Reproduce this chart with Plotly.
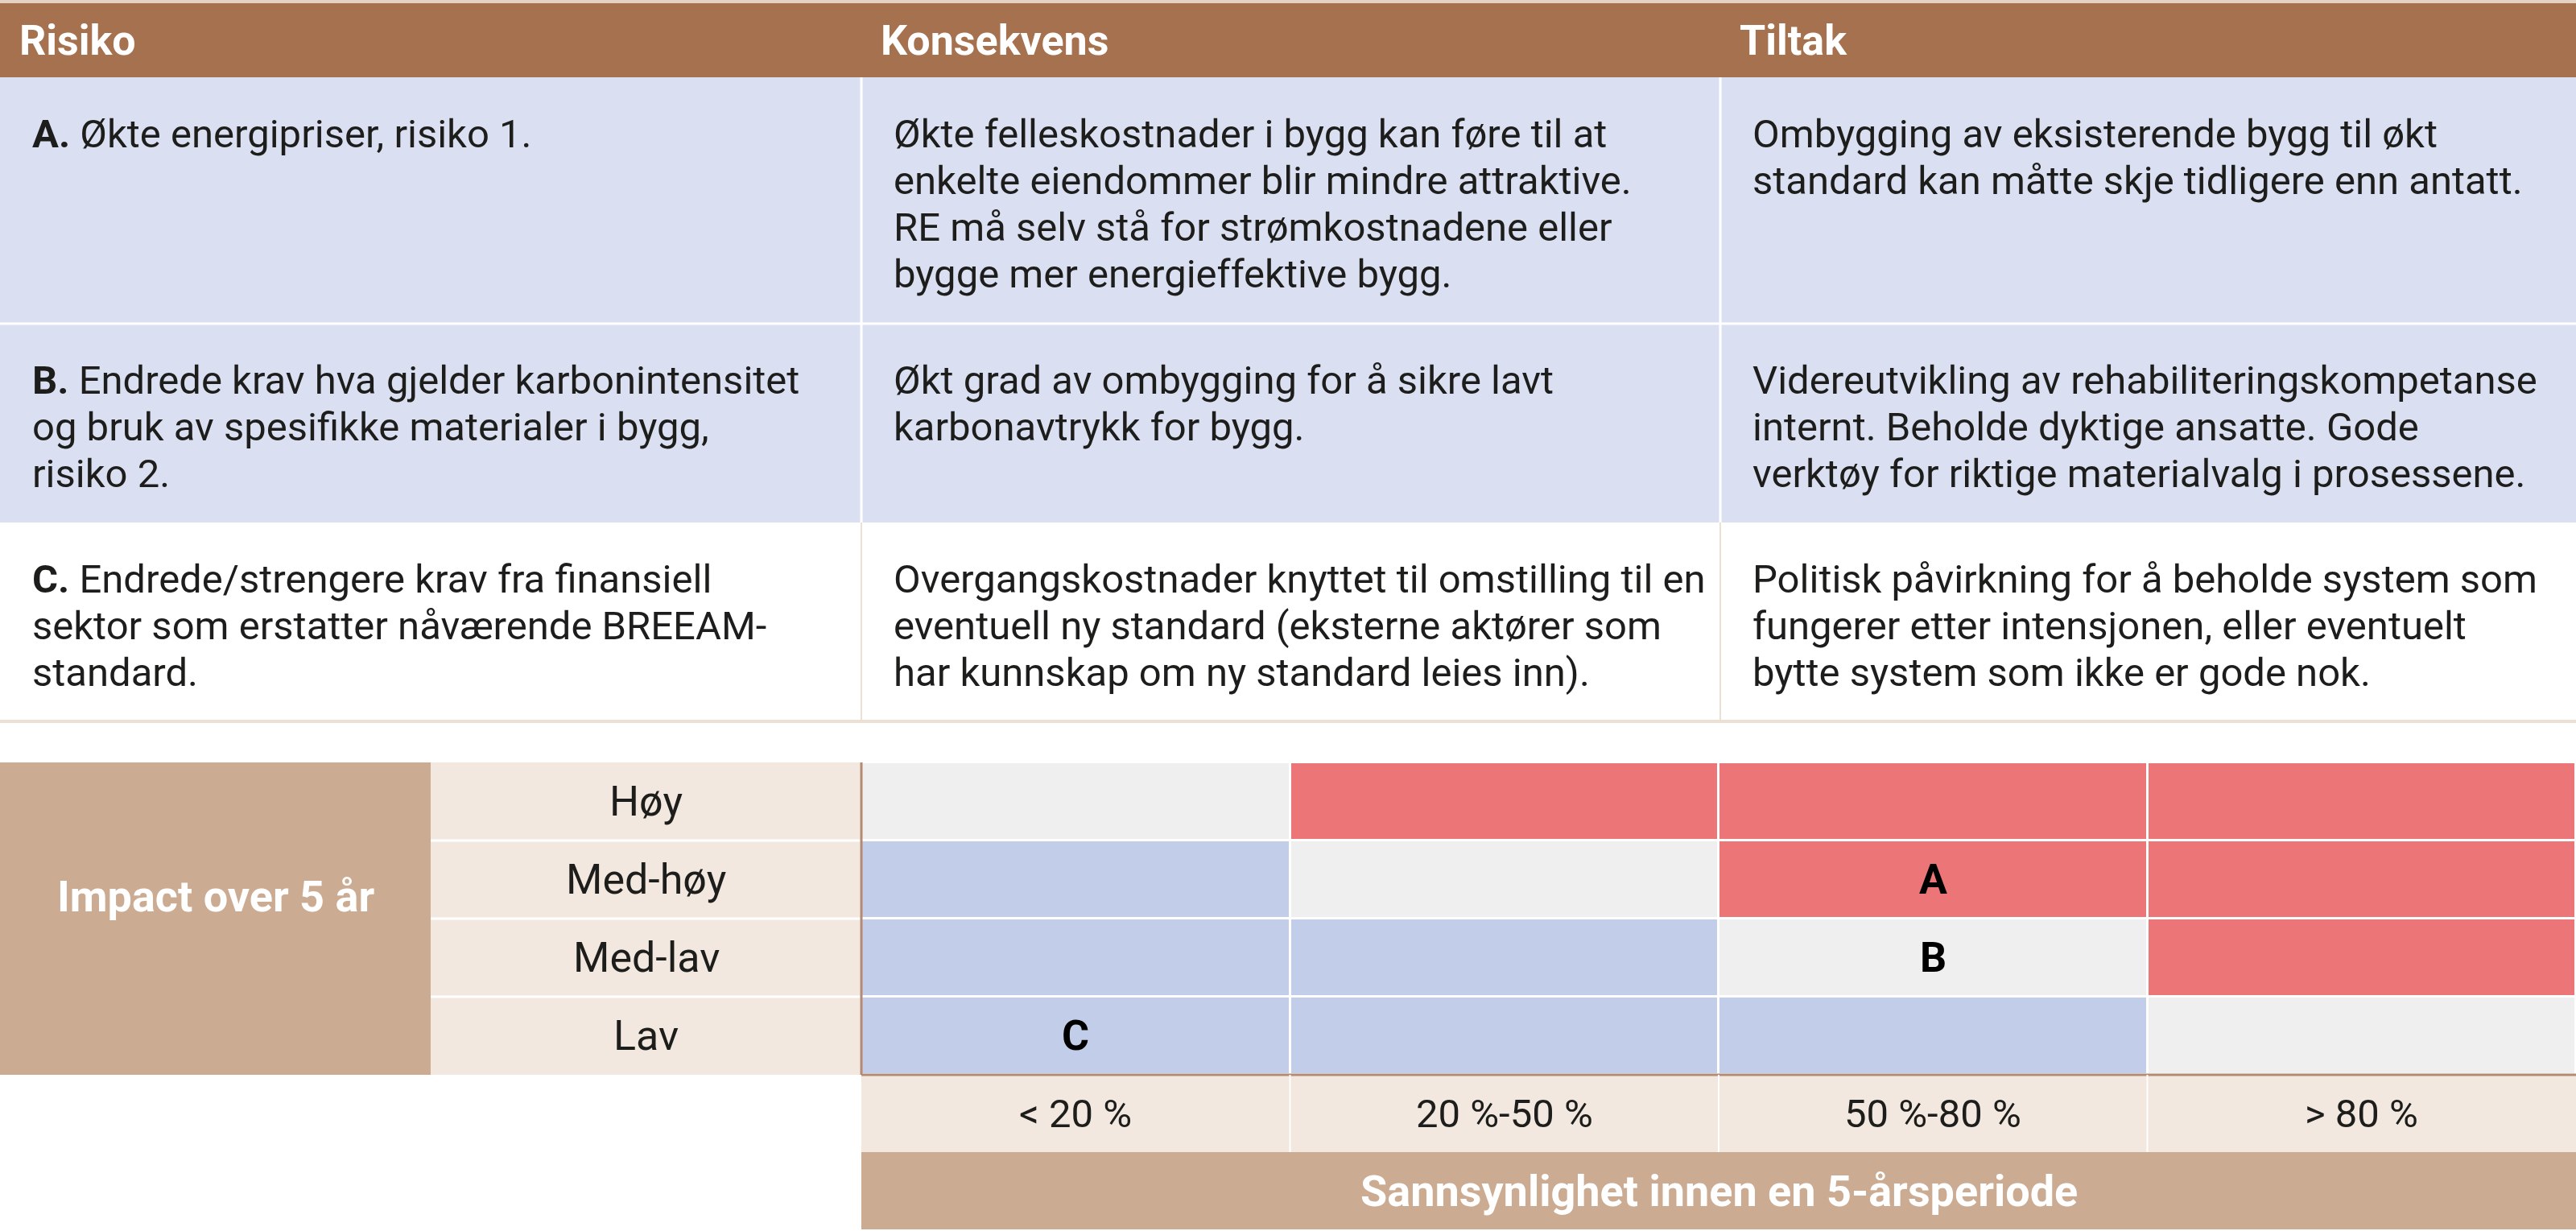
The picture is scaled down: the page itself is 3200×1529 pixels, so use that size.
import plotly.graph_objects as go

# ---- data ----
columns = ["Risiko", "Konsekvens", "Tiltak"]
risk_ids = ["A.", "B.", "C."]

risiko_text = [
    ["Økte energipriser, risiko 1."],
    ["Endrede krav hva gjelder karbonintensitet",
     "og bruk av spesifikke materialer i bygg,",
     "risiko 2."],
    ["Endrede/strengere krav fra finansiell",
     "sektor som erstatter nåværende BREEAM-",
     "standard."],
]
konsekvens_text = [
    ["Økte felleskostnader i bygg kan føre til at",
     "enkelte eiendommer blir mindre attraktive.",
     "RE må selv stå for strømkostnadene eller",
     "bygge mer energieffektive bygg."],
    ["Økt grad av ombygging for å sikre lavt",
     "karbonavtrykk for bygg."],
    ["Overgangskostnader knyttet til omstilling til en",
     "eventuell ny standard (eksterne aktører som",
     "har kunnskap om ny standard leies inn)."],
]
tiltak_text = [
    ["Ombygging av eksisterende bygg til økt",
     "standard kan måtte skje tidligere enn antatt."],
    ["Videreutvikling av rehabiliteringskompetanse",
     "internt. Beholde dyktige ansatte. Gode",
     "verktøy for riktige materialvalg i prosessene."],
    ["Politisk påvirkning for å beholde system som",
     "fungerer etter intensjonen, eller eventuelt",
     "bytte system som ikke er gode nok."],
]

impact_levels = ["Høy", "Med-høy", "Med-lav", "Lav"]
prob_bins = ["< 20 %", "20 %-50 %", "50 %-80 %", "> 80 %"]
# 0 = lav (blå), 1 = middels (grå), 2 = høy (rød)
risk_level = [
    [1, 2, 2, 2],
    [0, 1, 2, 2],
    [0, 0, 1, 2],
    [0, 0, 0, 1],
]
risk_marks = [("A", "50 %-80 %", "Med-høy"),
              ("B", "50 %-80 %", "Med-lav"),
              ("C", "< 20 %", "Lav")]

y_title = "Impact over 5 år"
x_title = "Sannsynlighet innen en 5-årsperiode"

# ---- layout / style ----
W, H = 3200, 1529
FONT = "Roboto"
TXT = "#1d1d1b"
BROWN = "#a5714e"
LAV = "#dae0f1"
TAN = "#ccab93"
BEIGE = "#f2e8df"
LINE_BEIGE = "#ecdfd4"
RED, GRAY, BLUE = "#ec7577", "#efefef", "#c2cdea"
BODY = 49
BOLD = 52

col_x = [0, 1070, 2137, W]
head_top, head_bot = 4, 96
row_y = [96, 402, 649, 894]
row_fill = [LAV, LAV, "white"]
text_pad = 38
first_off = 70
line_h = 58

mx_left, mx_right = 1070, W
mx_top, mx_bot = 947, 1335
lab_left = 535
xlab_bot = 1431
title_bot = 1527
cw = (mx_right - mx_left) / len(prob_bins)
rh = (mx_bot - mx_top) / len(impact_levels)

fig = go.Figure()
shapes = []
ann = []


def rect(x0, y0, x1, y1, color, layer="below"):
    shapes.append(dict(type="rect", x0=x0, y0=y0, x1=x1, y1=y1, xref="x", yref="y",
                       fillcolor=color, line_width=0, layer=layer))


def line(x0, y0, x1, y1, color, w):
    shapes.append(dict(type="line", x0=x0, y0=y0, x1=x1, y1=y1, xref="x", yref="y",
                       line=dict(color=color, width=w), layer="above"))


def text(x, y, s, size=BODY, color=TXT, xanchor="left"):
    ann.append(dict(x=x, y=y, xref="x", yref="y", text=s, showarrow=False,
                    xanchor=xanchor, yanchor="middle",
                    font=dict(family=FONT, size=size, color=color)))


# ---- top table ----
rect(0, 0, W, head_top, "#e6d2c2")
rect(0, head_top, W, head_bot, BROWN)
for i, c in enumerate(columns):
    text(col_x[i] + 22, (head_top + head_bot) / 2, f"<b>{c}</b>", size=BOLD, color="white")

for r in range(3):
    rect(0, row_y[r], W, row_y[r + 1], row_fill[r])
    for ci, col in enumerate([risiko_text, konsekvens_text, tiltak_text]):
        for li, s in enumerate(col[r]):
            if ci == 0 and li == 0:
                s = f"<b>{risk_ids[r]}</b> " + s
            text(col_x[ci] + text_pad, row_y[r] + first_off + li * line_h, s)

line(0, row_y[1], W, row_y[1], "white", 3)
for cx in col_x[1:-1]:
    line(cx, row_y[0], cx, row_y[2], "white", 3)
    line(cx, row_y[2], cx, row_y[3], LINE_BEIGE, 2)
line(0, row_y[3] + 2, W, row_y[3] + 2, LINE_BEIGE, 4)

# ---- risk matrix ----
rect(0, mx_top, lab_left, mx_bot, TAN)
text(lab_left / 2, 1113, f"<b>{y_title}</b>", size=BOLD + 2, color="white", xanchor="center")
rect(lab_left, mx_top, mx_left, mx_bot, BEIGE)
for i, lvl in enumerate(impact_levels):
    text((lab_left + mx_left) / 2, mx_top + rh * (i + 0.5), lvl, size=52, xanchor="center")
    if i > 0:
        line(lab_left, mx_top + rh * i, mx_left, mx_top + rh * i, "white", 3)

xc = [mx_left + cw * (j + 0.5) for j in range(len(prob_bins))]
yc = [mx_top + rh * (i + 0.5) for i in range(len(impact_levels))]
fig.add_trace(go.Heatmap(
    x=xc, y=yc, z=risk_level, zmin=0, zmax=2, showscale=False, hoverinfo="skip",
    xgap=3, ygap=3,
    colorscale=[[0, BLUE], [0.333, BLUE], [0.333, GRAY], [0.667, GRAY],
                [0.667, RED], [1, RED]],
))
for lab, pb, lvl in risk_marks:
    text(xc[prob_bins.index(pb)], yc[impact_levels.index(lvl)], f"<b>{lab}</b>",
         size=BOLD, color="black", xanchor="center")

line(mx_left, mx_top, mx_left, mx_bot, "#b48a72", 3)
line(mx_left, mx_bot, mx_right, mx_bot, "#b48a72", 3)

rect(mx_left, mx_bot, mx_right, xlab_bot, BEIGE)
for j, pb in enumerate(prob_bins):
    text(xc[j], (mx_bot + xlab_bot) / 2, pb, xanchor="center")
    if j > 0:
        line(mx_left + cw * j, mx_bot, mx_left + cw * j, xlab_bot, "white", 2)
rect(mx_left, xlab_bot, mx_right, title_bot, TAN)
text((mx_left + mx_right) / 2, (xlab_bot + title_bot) / 2, f"<b>{x_title}</b>",
     size=BOLD + 2, color="white", xanchor="center")

fig.update_layout(
    width=W, height=H, margin=dict(l=0, r=0, t=0, b=0),
    paper_bgcolor="white", plot_bgcolor="white",
    shapes=shapes, annotations=ann, showlegend=False,
    xaxis=dict(range=[0, W], visible=False, fixedrange=True),
    yaxis=dict(range=[H, 0], visible=False, fixedrange=True),
)
fig.write_html("out.html", config={"displayModeBar": False},
               post_script="document.body.style.margin='0';")
